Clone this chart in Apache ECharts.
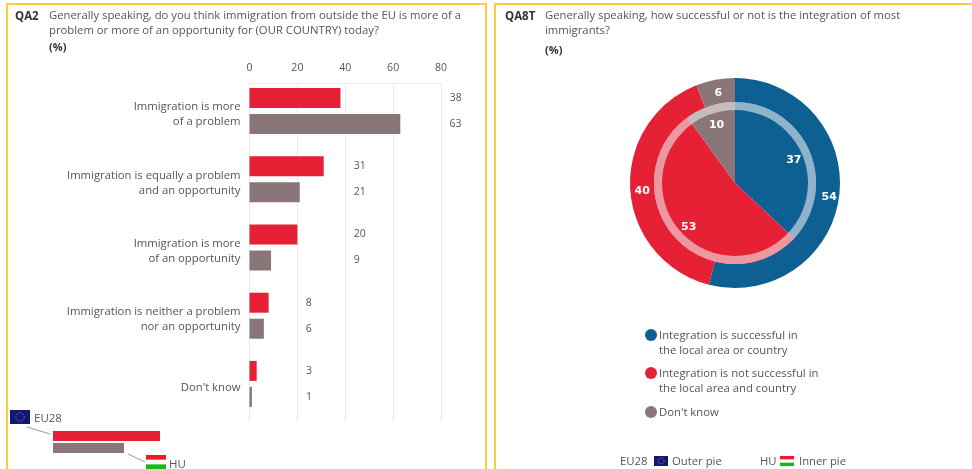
<!DOCTYPE html>
<html>
<head>
<meta charset="utf-8">
<style>html,body{margin:0;padding:0;background:#fff}#c{width:972px;height:469px}</style>
<script src="https://cdn.jsdelivr.net/npm/echarts@6/dist/echarts.min.js"></script>
</head>
<body>
<div id="c"></div>
<script>
// Attitudes to immigration: EU28 against Hungary
const categories = [
  'Immigration is more\nof a problem',
  'Immigration is equally a problem\nand an opportunity',
  'Immigration is more\nof an opportunity',
  'Immigration is neither a problem\nnor an opportunity',
  "Don't know"
];
const eu28Values = [38, 31, 20, 8, 3];
const huValues = [63, 21, 9, 6, 1];
const valueTicks = [0, 20, 40, 60, 80];
// Axis position (in %) of the column holding each category's value labels
const labelColumns = [83.5, 43.5, 43.5, 23.5, 23.5];

const pieNames = [
  'Integration is successful in\nthe local area or country',
  'Integration is not successful in\nthe local area and country',
  "Don't know"
];
const pieOuterEu28 = [54, 40, 6];
const pieInnerHu = [37, 53, 10];

const BLUE = '#0e6093', RED = '#e62136', GREY = '#8a7678', TEXT = '#555555';
const FONT = '"Open Sans", sans-serif';
const PX_PER_UNIT = 2.4;
const pieColors = [BLUE, RED, GREY];
const PIE_CENTER = [735, 183];

const pieData = vals => vals.map((v, i) => ({ name: pieNames[i], value: v, itemStyle: { color: pieColors[i] } }));

// A drawn ring of the pie, without labels
const pieRing = (name, radius, vals) => ({
  name, type: 'pie', center: PIE_CENTER, radius, startAngle: 90, clockwise: true, silent: true,
  label: { show: false }, labelLine: { show: false }, data: pieData(vals)
});
// A transparent ring whose middle sets the radius of the value labels
const pieLabels = (name, radius, vals) => ({
  name, type: 'pie', center: PIE_CENTER, radius, startAngle: 90, clockwise: true, silent: true,
  label: { show: true, position: 'inside', color: '#fff', fontFamily: '"DejaVu Sans", sans-serif', fontWeight: 700, fontSize: 11, offset: [1, 2], formatter: '{c}' },
  labelLine: { show: false },
  data: vals.map((v, i) => ({ name: pieNames[i], value: v, itemStyle: { color: 'transparent' } }))
});

const barSeries = (name, values, color) => ({
  name, type: 'bar', xAxisIndex: 0, yAxisIndex: 0, barWidth: 20, barGap: '30%',
  itemStyle: { color },
  label: {
    show: true, position: 'right', color: TEXT, fontFamily: FONT, fontSize: 10.5,
    formatter: p => String(p.value)
  },
  data: values.map((v, i) => ({
    value: v,
    label: { offset: [(labelColumns[i] - v) * PX_PER_UNIT - 5, 0] }
  }))
});

const txt = (x, y, text, extra) => ({
  type: 'text', x, y, silent: true,
  style: Object.assign({ text, fill: TEXT, font: '11.3px ' + FONT, lineHeight: 14.5, textVerticalAlign: 'top' }, extra || {})
});
const box = (x, y, w, h, fill) => ({ type: 'rect', silent: true, shape: { x, y, width: w, height: h }, style: { fill } });
const seg = (x1, y1, x2, y2) => ({ type: 'line', silent: true, shape: { x1, y1, x2, y2 }, style: { stroke: '#9a9a9a', lineWidth: 1 } });
const panel = (x, w) => ({ type: 'rect', silent: true, shape: { x, y: 4, width: w, height: 480 }, style: { fill: 'none', stroke: '#fdcb3e', lineWidth: 2 } });
const euFlag = (x, y, w, h) => [
  box(x, y, w, h, '#10197a'),
  { type: 'circle', silent: true, shape: { cx: x + w / 2, cy: y + h / 2, r: h * 0.3 }, style: { fill: 'none', stroke: '#c9b63a', lineWidth: 0.8, lineDash: [1, 1.5] } }
];
const huFlag = (x, y, w, h) => [
  box(x, y, w, h / 3, '#f01a24'),
  box(x, y + 2 * h / 3, w, h / 3, '#19b81e')
];
const dot = (cx, cy, fill) => ({ type: 'circle', silent: true, shape: { cx, cy, r: 6 }, style: { fill } });

const xRange = { min: valueTicks[0], max: valueTicks[valueTicks.length - 1], interval: 20 };

const chart = echarts.init(document.getElementById('c'), null, { renderer: 'canvas' });
chart.setOption({
  animation: false,
  backgroundColor: '#fff',
  grid: [
    { left: 249.5, top: 77, width: 191.5, height: 341 },    // bars
    { left: 249.5, top: 83, width: 191.5, height: 339 },    // value scale and its rules
    { left: 249.5, top: 80.5, width: 191.5, height: 341 }   // category names, set slightly below the bars
  ],
  xAxis: [
    Object.assign({ type: 'value', gridIndex: 0, show: false }, xRange),
    Object.assign({ type: 'value', gridIndex: 1, position: 'top',
      axisLine: { show: true, lineStyle: { color: '#ececec' } }, axisTick: { show: false },
      splitLine: { lineStyle: { color: '#e8e8e8', width: 1 } },
      axisLabel: { color: TEXT, fontFamily: FONT, fontSize: 10.5, margin: 9 } }, xRange),
    Object.assign({ type: 'value', gridIndex: 2, show: false }, xRange)
  ],
  yAxis: [
    { type: 'category', gridIndex: 0, inverse: true, data: categories, show: false },
    { type: 'category', gridIndex: 1, data: [''], show: false },
    { type: 'category', gridIndex: 2, inverse: true, data: categories,
      axisLine: { show: false }, axisTick: { show: false }, splitLine: { show: false },
      axisLabel: { color: TEXT, fontFamily: FONT, fontSize: 11.3, lineHeight: 15, margin: 9, align: 'right' } }
  ],
  series: [
    barSeries('EU28', eu28Values, RED),
    barSeries('HU', huValues, GREY),
    pieRing('EU28 outer', [81, 105], pieOuterEu28),
    pieRing('HU inner', [0, 81], pieInnerHu),
    // Pale band along the rim of the inner pie
    { name: 'Rim', type: 'pie', center: PIE_CENTER, radius: [73, 81], startAngle: 90, silent: true,
      label: { show: false }, labelLine: { show: false },
      data: [{ value: 1, itemStyle: { color: 'rgba(240,240,240,0.58)' } }] },
    pieLabels('EU28 labels', [77, 105], pieOuterEu28),
    pieLabels('HU labels', [39, 81], pieInnerHu)
  ],
  graphic: { elements: [
    panel(7, 479), panel(495, 520),
    txt(15, 9, 'QA2', { font: '700 11.5px ' + FONT, fill: '#333' }),
    txt(49, 9, 'Generally speaking, do you think immigration from outside the EU is more of a\nproblem or more of an opportunity for (OUR COUNTRY) today?'),
    txt(49, 41, '(%)', { font: '700 11px ' + FONT, fill: '#333' }),
    txt(505, 9, 'QA8T', { font: '700 11.5px ' + FONT, fill: '#333' }),
    txt(545, 9, 'Generally speaking, how successful or not is the integration of most\nimmigrants?'),
    txt(545, 44, '(%)', { font: '700 11px ' + FONT, fill: '#333' }),
    // Key for the bar chart
    ...euFlag(10, 410, 20, 14),
    txt(34, 411, 'EU28', { font: '11.5px ' + FONT }),
    seg(27, 427, 50, 434),
    box(53, 431, 107, 10, RED),
    box(53, 443, 71, 10, GREY),
    seg(128, 454, 145, 462),
    ...huFlag(146, 455, 20, 14),
    txt(169, 457, 'HU', { font: '11.5px ' + FONT }),
    // Key for the pie chart
    dot(651, 335, BLUE),
    txt(659, 329, pieNames[0]),
    dot(651, 373, RED),
    txt(659, 367, pieNames[1]),
    dot(651, 412, GREY),
    txt(659, 406, pieNames[2]),
    txt(620, 455, 'EU28', { font: '11.3px ' + FONT }),
    ...euFlag(654, 456, 14, 10),
    txt(672, 455, 'Outer pie'),
    txt(760, 455, 'HU', { font: '11.3px ' + FONT }),
    ...huFlag(780, 456, 14, 10),
    txt(799, 455, 'Inner pie')
  ] }
});
</script>
</body>
</html>
